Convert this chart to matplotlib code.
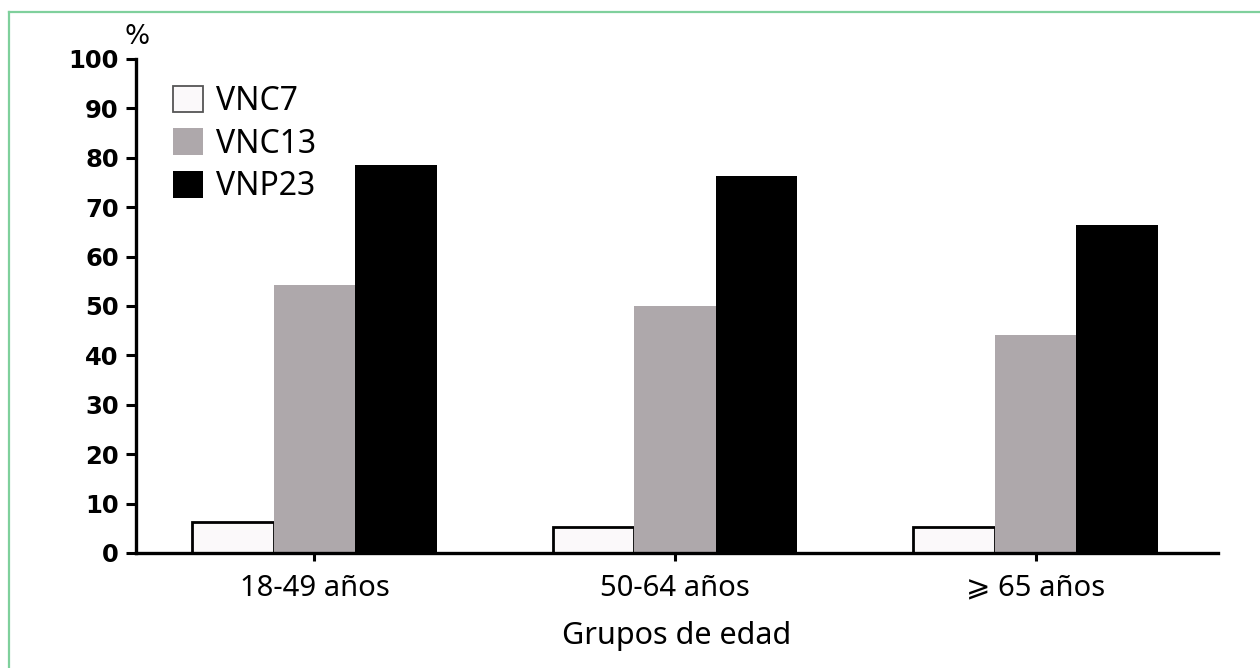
import matplotlib
matplotlib.use("Agg")
import matplotlib.pyplot as plt
import numpy as np
from matplotlib.lines import Line2D

categories = ["18-49 años", "50-64 años", "\u2a7e 65 años"]
series_names = ["VNC7", "VNC13", "VNP23"]
vnc7 = [6.2, 5.3, 5.2]
vnc13 = [54.2, 50.0, 44.2]
vnp23 = [78.5, 76.4, 66.4]
yticks = [0, 10, 20, 30, 40, 50, 60, 70, 80, 90, 100]

W, H = 1260, 668
fig = plt.figure(figsize=(W / 100, H / 100), dpi=100)
fig.patch.set_facecolor("white")

ax = fig.add_axes([136 / W, 1 - 553 / H, (1218 - 136) / W, (553 - 59) / H])

x = np.arange(len(categories))
bw = 0.226
ax.bar(x - bw, vnc7, bw, color="#fbf9fa", edgecolor="black", linewidth=2.0,
       label=series_names[0], zorder=2)
ax.bar(x, vnc13, bw, color="#aea8ab", edgecolor="none", label=series_names[1], zorder=3)
ax.bar(x + bw, vnp23, bw, color="black", edgecolor="none", label=series_names[2], zorder=3)

ax.set_xlim(-0.495, 2.506)
ax.set_ylim(0, 100)
ax.set_yticks(yticks)
ax.set_yticklabels([str(v) for v in yticks], fontfamily="DejaVu Sans",
                   fontweight="bold", fontsize=17.5)
ax.set_xticks(x)
ax.set_xticklabels(categories, fontfamily=["Noto Sans", "DejaVu Sans"], fontsize=21)

for s in ["top", "right"]:
    ax.spines[s].set_visible(False)
for s in ["left", "bottom"]:
    ax.spines[s].set_linewidth(2.4)
    ax.spines[s].set_zorder(5)
ax.tick_params(axis="y", direction="out", length=7.5, width=2.2, pad=5, colors="black")
ax.tick_params(axis="x", direction="out", length=6, width=2.2, pad=9, colors="black")

ax.set_xlabel("Grupos de edad", fontfamily="Noto Sans", fontsize=22, labelpad=13)

ax.annotate("%", xy=(0, 1), xycoords="axes fraction", xytext=(1, 16),
            textcoords="offset points", ha="center", va="center",
            fontfamily="DejaVu Sans", fontsize=19)

leg = ax.legend(loc="upper left", bbox_to_anchor=(0.034, 0.947), frameon=False,
                prop={"family": "Noto Sans", "size": 23},
                handlelength=0.96, handleheight=0.9, handletextpad=0.40,
                labelspacing=0.30, borderpad=0, borderaxespad=0)
for h in leg.legend_handles:
    if h.get_facecolor()[0] > 0.9:
        h.set_edgecolor("#555555")
        h.set_linewidth(1.3)

# green frame
gc = "#7fd09c"
fig.add_artist(Line2D([9 / W, 1.0], [1 - 12 / H, 1 - 12 / H], color=gc, linewidth=1.6,
                      transform=fig.transFigure))
fig.add_artist(Line2D([9 / W, 9 / W], [0, 1 - 12 / H], color=gc, linewidth=1.6,
                      transform=fig.transFigure))

fig.savefig("out.png", dpi=100, facecolor="white")
